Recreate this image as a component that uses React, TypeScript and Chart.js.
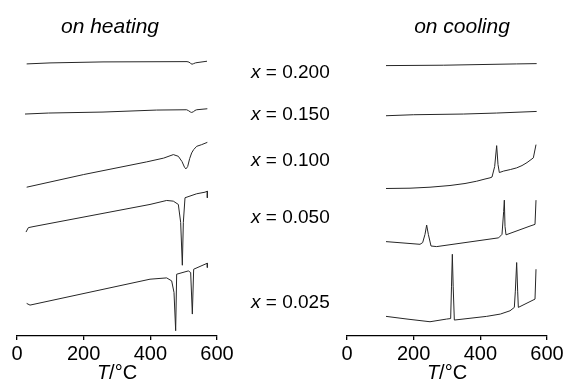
import React, { useEffect, useRef } from "react";
import { Chart, registerables } from "chart.js";

Chart.register(...registerables);

// Temperature ticks shown on both panels (°C)
const tickValues = [0, 200, 400, 600];
const compositions = ["0.200", "0.150", "0.100", "0.050", "0.025"];

// ---- on heating (T in °C, offset heat-flow signal in arbitrary units) ----
const heatT_0200 = [29, 99, 258, 510, 516, 521, 525, 530, 535, 540, 570];
const heatY_0200 = [273, 274, 275, 275.3, 274.8, 273.5, 272.7, 273.3, 274, 274.3, 275.7];

const heatT_0150 = [24, 94, 258, 419, 509, 515, 520, 524, 529, 534, 539, 571];
const heatY_0150 = [222.7, 223.7, 224.7, 226.7, 227, 226, 224.8, 224.3, 225, 226.3, 227, 228];

const heatT_0100 = [29, 200, 389, 440, 469, 484, 495, 503, 507, 512, 518, 524, 530, 539, 554, 571];
const heatY_0100 = [149.3, 162, 174.7, 178.5, 182, 180.3, 175, 169, 167.7, 170, 178, 183.7, 187, 190.3, 192, 194.3];

const heatT_0050 = [27, 34, 48, 399, 449, 469, 484, 491, 496, 499, 504, 539, 564, 571, 571];
const heatY_0050 = [104.3, 108.7, 109.7, 132, 136, 135.3, 132, 114, 71, 114, 138.7, 142.7, 144.3, 145.3, 138.7];

const heatT_0025 = [29, 39, 399, 449, 464, 471, 476, 479, 514, 521, 526, 530, 564, 571, 571];
const heatY_0025 = [32.7, 31, 57, 58.3, 55.3, 43.7, 5.3, 62, 65.3, 63.7, 22, 67, 72, 73, 68.7];

// ---- on cooling ----
const coolT_0200 = [117, 289, 509, 569];
const coolY_0200 = [271.3, 271.7, 273, 273.3];

const coolT_0150 = [117, 199, 349, 449, 569];
const coolY_0150 = [221, 222, 222.7, 223.7, 225.3];

const coolT_0100 = [117, 189, 249, 309, 354, 389, 414, 429, 435, 443, 449, 453, 457, 470, 490, 509, 525, 540, 559, 567];
const coolY_0100 = [148, 148.3, 149.3, 151, 153, 155.3, 157.5, 158.7, 159.5, 170, 191, 172, 164, 165.5, 167, 168.7, 171, 174, 178.7, 192];

const coolT_0050 = [117, 219, 227, 234, 239, 244, 252, 269, 455, 465, 470, 472, 474, 477, 549, 564, 567];
const coolY_0050 = [94.7, 92, 93.7, 102, 111.3, 102, 90.3, 89.7, 98.5, 102, 125, 136.3, 110, 101.5, 110.3, 112, 136.3];

const coolT_0025 = [117, 180, 249, 299, 311, 313.5, 316, 318.5, 322, 419, 460, 489, 502, 505, 509, 512, 514, 564, 567];
const coolY_0025 = [19.7, 17, 14.3, 17, 17.5, 50, 82, 50, 16, 19.7, 22, 25.3, 28.7, 45, 73.7, 45, 28.7, 37, 67];

const heatingT = [heatT_0200, heatT_0150, heatT_0100, heatT_0050, heatT_0025];
const heatingY = [heatY_0200, heatY_0150, heatY_0100, heatY_0050, heatY_0025];
const coolingT = [coolT_0200, coolT_0150, coolT_0100, coolT_0050, coolT_0025];
const coolingY = [coolY_0200, coolY_0150, coolY_0100, coolY_0050, coolY_0025];

const FONT = "'Liberation Sans', Arial, Helvetica, sans-serif";

function makeDatasets(ts: number[][], ys: number[][]) {
  return ts.map((t, i) => ({
    label: "x = " + compositions[i],
    data: t.map((v, j) => ({ x: v, y: ys[i][j] })),
    borderColor: "#262626",
    borderWidth: 1,
    pointRadius: 0,
    tension: 0,
    fill: false,
  }));
}

function Panel(props: { ts: number[][]; ys: number[][]; padLeft: number; padRight: number; left: number }) {
  const ref = useRef<HTMLCanvasElement | null>(null);
  useEffect(() => {
    if (!ref.current) return;
    const chart = new Chart(ref.current, {
      type: "line",
      data: { datasets: makeDatasets(props.ts, props.ys) as any },
      options: {
        animation: false,
        responsive: false,
        devicePixelRatio: 1,
        layout: { padding: { left: props.padLeft, right: props.padRight, top: 37, bottom: 20 } },
        plugins: { legend: { display: false }, tooltip: { enabled: false }, title: { display: false } },
        scales: {
          x: {
            type: "linear",
            min: 0,
            max: 600,
            afterBuildTicks: (scale: any) => {
              scale.ticks = tickValues.map((v) => ({ value: v }));
            },
            grid: { drawOnChartArea: false, drawTicks: true, tickLength: 4, color: "#000", lineWidth: 1.3 },
            border: { display: true, color: "#000", width: 1.3 },
            ticks: { color: "#000", font: { family: FONT, size: 20 }, padding: 2, maxRotation: 0 },
          },
          y: { type: "linear", min: 0, max: 300, display: false },
        },
      },
    });
    return () => chart.destroy();
  }, []);
  return (
    <canvas
      ref={ref}
      width={240}
      height={388}
      style={{ position: "absolute", left: props.left, top: 0, width: 240, height: 388 }}
    />
  );
}

const labelCenters = [71, 113, 159, 216, 301];

export default function App() {
  return (
    <div style={{ position: "fixed", left: 0, top: 0, width: 567, height: 388, background: "#fff", overflow: "hidden", fontFamily: FONT, color: "#000" }}>
      <Panel ts={heatingT} ys={heatingY} padLeft={17} padRight={23} left={0} />
      <Panel ts={coolingT} ys={coolingY} padLeft={20} padRight={20} left={327} />
      <div style={{ position: "absolute", left: 10, top: 15, width: 200, textAlign: "center", fontSize: 21, lineHeight: "21px", fontStyle: "italic" }}>on heating</div>
      <div style={{ position: "absolute", left: 362, top: 15, width: 200, textAlign: "center", fontSize: 21, lineHeight: "21px", fontStyle: "italic" }}>on cooling</div>
      {compositions.map((c, i) => (
        <div key={c} style={{ position: "absolute", left: 251, top: labelCenters[i] - 9.3, fontSize: 19, lineHeight: "19px", whiteSpace: "nowrap" }}>
          <i>x</i> = {c}
        </div>
      ))}
      <div style={{ position: "absolute", left: 17, top: 362, width: 200, textAlign: "center", fontSize: 20, lineHeight: "20px" }}>
        <i>T</i>/°C
      </div>
      <div style={{ position: "absolute", left: 347, top: 362, width: 200, textAlign: "center", fontSize: 20, lineHeight: "20px" }}>
        <i>T</i>/°C
      </div>
    </div>
  );
}
